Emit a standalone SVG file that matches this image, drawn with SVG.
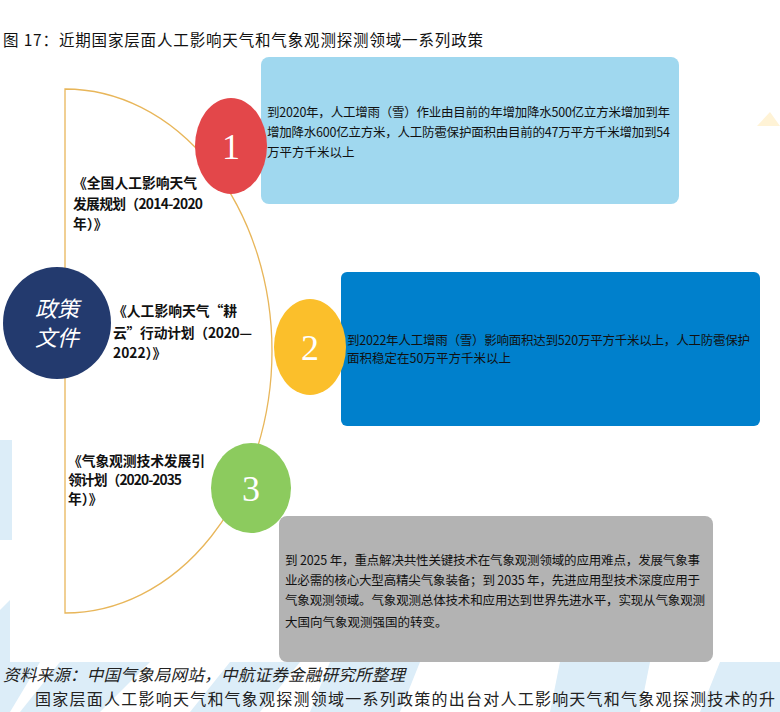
<svg xmlns="http://www.w3.org/2000/svg" width="780" height="712" viewBox="0 0 780 712">
<style>
.cjk{font-family:"Noto Sans CJK SC","Noto Sans",sans-serif;}
.title{font-size:15.5px;fill:#111;}
.box{font-size:12.5px;fill:#111;}
.lbl{font-size:13.8px;font-weight:bold;fill:#111;}
.num{font-family:"Liberation Serif",serif;font-size:36px;fill:#fff;text-anchor:middle;}
.wm{fill:#dcedf8;}
</style>
<rect x="0" y="0" width="780" height="712" fill="#fff"/>
<g id="watermark">
  <polygon class="wm" points="0,440 12,440 12,540 0,540"/>
  <polygon class="wm" points="0,610 10,600 10,662 0,662"/>
  <polygon class="wm" points="0,662 40,662 10,712 0,712"/>
  <polygon class="wm" points="60,662 150,662 100,712 20,712"/>
  <polygon class="wm" points="230,662 300,662 260,712 190,712"/>
  <polygon class="wm" points="330,662 420,662 400,712 310,712"/>
  <polygon class="wm" points="560,662 650,662 640,712 550,712"/>
  <polygon class="wm" points="720,662 780,662 780,712 700,712"/>
  <polygon points="757,126 770,112 780,126" fill="#fff3d6"/>
</g>
<text class="cjk title" x="3" y="46" textLength="480">图 17：近期国家层面人工影响天气和气象观测探测领域一系列政策</text>
<g id="connectors">
  <path d="M65,89 A207,262 0 0 1 65,613 Z" fill="none" stroke="#e8b65a" stroke-width="1.3"/>
</g>
<g id="box1">
  <rect x="261" y="57" width="418" height="147" rx="8" fill="#a0d8ef"/>
  <text class="cjk box" x="267" y="117" textLength="403">到2020年，人工增雨（雪）作业由目前的年增加降水500亿立方米增加到年</text>
  <text class="cjk box" x="267" y="137" textLength="403">增加降水600亿立方米，人工防雹保护面积由目前的47万平方千米增加到54</text>
  <text class="cjk box" x="267" y="157">万平方千米以上</text>
</g>
<g id="box2">
  <rect x="341" y="272" width="419" height="154" rx="6" fill="#0080cc"/>
  <text class="cjk box" x="347" y="345" textLength="403">到2022年人工增雨（雪）影响面积达到520万平方千米以上，人工防雹保护</text>
  <text class="cjk box" x="347" y="363">面积稳定在50万平方千米以上</text>
</g>
<g id="box3">
  <rect x="279" y="516" width="434" height="146" rx="8" fill="#b3b3b3"/>
  <text class="cjk box" x="285" y="565" textLength="415">到 2025 年，重点解决共性关键技术在气象观测领域的应用难点，发展气象事</text>
  <text class="cjk box" x="285" y="585" textLength="415">业必需的核心大型高精尖气象装备；到 2035 年，先进应用型技术深度应用于</text>
  <text class="cjk box" x="285" y="605" textLength="420">气象观测领域。气象观测总体技术和应用达到世界先进水平，实现从气象观测</text>
  <text class="cjk box" x="285" y="627">大国向气象观测强国的转变。</text>
</g>
<g id="hub">
  <ellipse cx="57" cy="323" rx="54" ry="56" fill="#233a6e"/>
  <text class="cjk" x="57" y="317" font-size="22" font-style="italic" fill="#fff" text-anchor="middle">政策</text>
  <text class="cjk" x="57" y="346" font-size="22" font-style="italic" fill="#fff" text-anchor="middle">文件</text>
</g>
<g id="policy1">
  <text class="cjk lbl" x="73" y="188">《全国人工影响天气</text>
  <text class="cjk lbl" x="73" y="209" textLength="130">发展规划（2014-2020</text>
  <text class="cjk lbl" x="73" y="229">年）》</text>
</g>
<g id="policy2">
  <text class="cjk lbl" x="113" y="316">《人工影响天气“耕</text>
  <text class="cjk lbl" x="113" y="338" textLength="139">云”行动计划（2020—</text>
  <text class="cjk lbl" x="113" y="358">2022）》</text>
</g>
<g id="policy3">
  <text class="cjk lbl" x="68" y="466" textLength="137">《气象观测技术发展引</text>
  <text class="cjk lbl" x="68" y="485" textLength="114">领计划（2020-2035</text>
  <text class="cjk lbl" x="68" y="504">年）》</text>
</g>
<g id="n1">
  <ellipse cx="231" cy="146" rx="36" ry="48" fill="#e3474a"/>
  <text class="num" x="231" y="159">1</text>
</g>
<g id="n2">
  <ellipse cx="310" cy="347" rx="36" ry="48" fill="#fbbf2b"/>
  <text class="num" x="310" y="360">2</text>
</g>
<g id="n3">
  <ellipse cx="251" cy="488" rx="40" ry="45" fill="#8ccb5e"/>
  <text class="num" x="251" y="501">3</text>
</g>
<text class="cjk" x="3" y="681" font-size="16.5" font-style="italic" fill="#222" textLength="402">资料来源：中国气象局网站，中航证券金融研究所整理</text>
<text class="cjk" x="35" y="705" font-size="16" fill="#222" textLength="740">国家层面人工影响天气和气象观探测领域一系列政策的出台对人工影响天气和气象观探测技术的升</text>
</svg>
